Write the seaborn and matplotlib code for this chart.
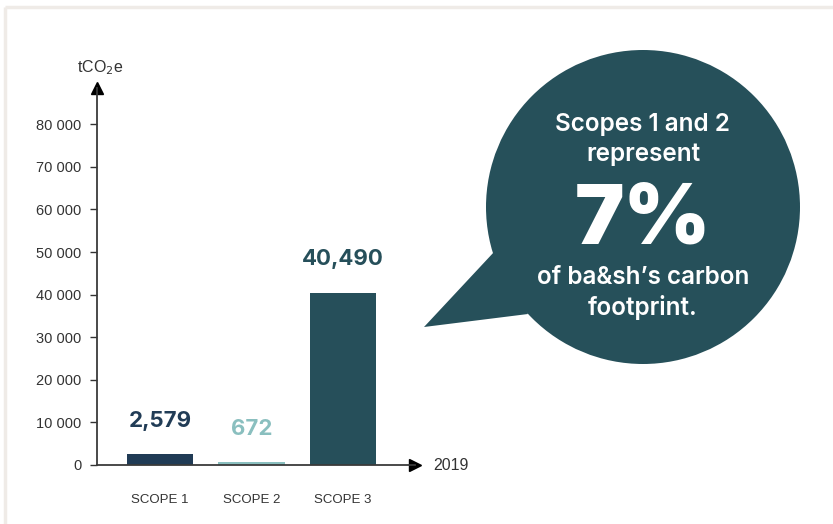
import matplotlib
matplotlib.use("Agg")
import matplotlib.pyplot as plt
import seaborn as sns
import pandas as pd
from matplotlib.patches import Circle, Polygon
from matplotlib.ticker import FuncFormatter

categories = ["SCOPE 1", "SCOPE 2", "SCOPE 3"]
values = [2579, 672, 40490]
value_labels = ["2,579", "672", "40,490"]
bar_colors = ["#203b55", "#8abfbf", "#264f5a"]
label_colors = ["#213c56", "#8abfbf", "#264f5a"]
y_ticks = [0, 10000, 20000, 30000, 40000, 50000, 60000, 70000, 80000]
x_axis_label = "2019"
y_axis_label = "tCO$_2$e"
bubble_lines = ["Scopes 1 and 2", "represent", "7%", "of ba\u0026sh\u2019s carbon", "footprint."]

sns.set_theme(style="white")
plt.rcParams["font.family"] = ["Liberation Sans", "DejaVu Sans"]

W, H = 833, 524
fig = plt.figure(figsize=(W / 100, H / 100), dpi=100)
fig.patch.set_facecolor("white")

# decoration overlay in pixel coordinates
ov = fig.add_axes([0, 0, 1, 1], zorder=0)
ov.set_xlim(0, W)
ov.set_ylim(H, 0)
ov.axis("off")
ov.plot([5, W], [7, 7], color="#efebe7", lw=2.5, solid_capstyle="butt")
ov.plot([5, 5], [7, H], color="#efebe7", lw=2.5, solid_capstyle="butt")

bubble_color = "#26505a"
ov.add_patch(Circle((643, 207), 157, facecolor=bubble_color, edgecolor="none"))
ov.add_patch(Polygon([(494, 252), (424, 327), (528, 314)], closed=True,
                     facecolor=bubble_color, edgecolor="none"))
txt_font = ["Inter", "DejaVu Sans"]
for y, t, fs, fw in [(124, bubble_lines[0], 17.5, "semibold"),
                     (155, bubble_lines[1], 17.5, "semibold"),
                     (221, bubble_lines[2], 60, "black"),
                     (278, bubble_lines[3], 17.5, "semibold"),
                     (307, bubble_lines[4], 17.5, "semibold")]:
    ov.text(643, y, t, ha="center", va="center", color="white",
            fontsize=fs, fontweight=fw, family=txt_font)

# chart axes
ax_left, ax_right, ax_zero, ax_top = 97, 415, 465, 88
ax = fig.add_axes([ax_left / W, (H - ax_zero) / H, (ax_right - ax_left) / W,
                   (ax_zero - ax_top) / H], zorder=1)
ax.patch.set_alpha(0)

df = pd.DataFrame({"scope": categories, "value": values})
sns.barplot(data=df, x="scope", y="value", hue="scope", palette=bar_colors,
            order=categories, width=0.73, legend=False, ax=ax, saturation=1,
            linewidth=0)

px_per_cat = 91.5
ax.set_xlim(-(160 - ax_left) / px_per_cat, (ax_right - 160) / px_per_cat)
ax.set_ylim(0, 10000 * (ax_zero - ax_top) / 42.6)

for i, (v, lab, c) in enumerate(zip(values, value_labels, label_colors)):
    ax.annotate(lab, (i, v), xytext=(0, 24), textcoords="offset points",
                ha="center", va="center", color=c, fontsize=16,
                fontweight="bold", family=txt_font)

for s in ["top", "right"]:
    ax.spines[s].set_visible(False)
for s in ["left", "bottom"]:
    ax.spines[s].set_color("#3a3a3a")
    ax.spines[s].set_linewidth(1.3)

ax.plot(1, 0, ">", transform=ax.transAxes, color="black", ms=8, clip_on=False)
ax.plot(0, 1, "^", transform=ax.transAxes, color="black", ms=8, clip_on=False)

ax.set_yticks(y_ticks)
ax.yaxis.set_major_formatter(FuncFormatter(
    lambda v, p: "0" if v == 0 else f"{int(v):,}".replace(",", " ")))
ax.tick_params(axis="y", left=True, length=5, width=1, color="#333333",
               labelsize=10.5, labelcolor="#333333", pad=6)
ax.tick_params(axis="x", bottom=False, labelsize=9.5, labelcolor="#333333", pad=15)
ax.set_xlabel("")
ax.set_ylabel("")

ax.text(ax_right + 18, ax_zero + 1, x_axis_label, transform=ov.transData,
        ha="left", va="center", fontsize=11.5, color="#333333")
ax.text(ax_left + 3, 68, y_axis_label, transform=ov.transData,
        ha="center", va="center", fontsize=11.5, color="#333333")

fig.savefig("out.png", dpi=100, facecolor="white")
